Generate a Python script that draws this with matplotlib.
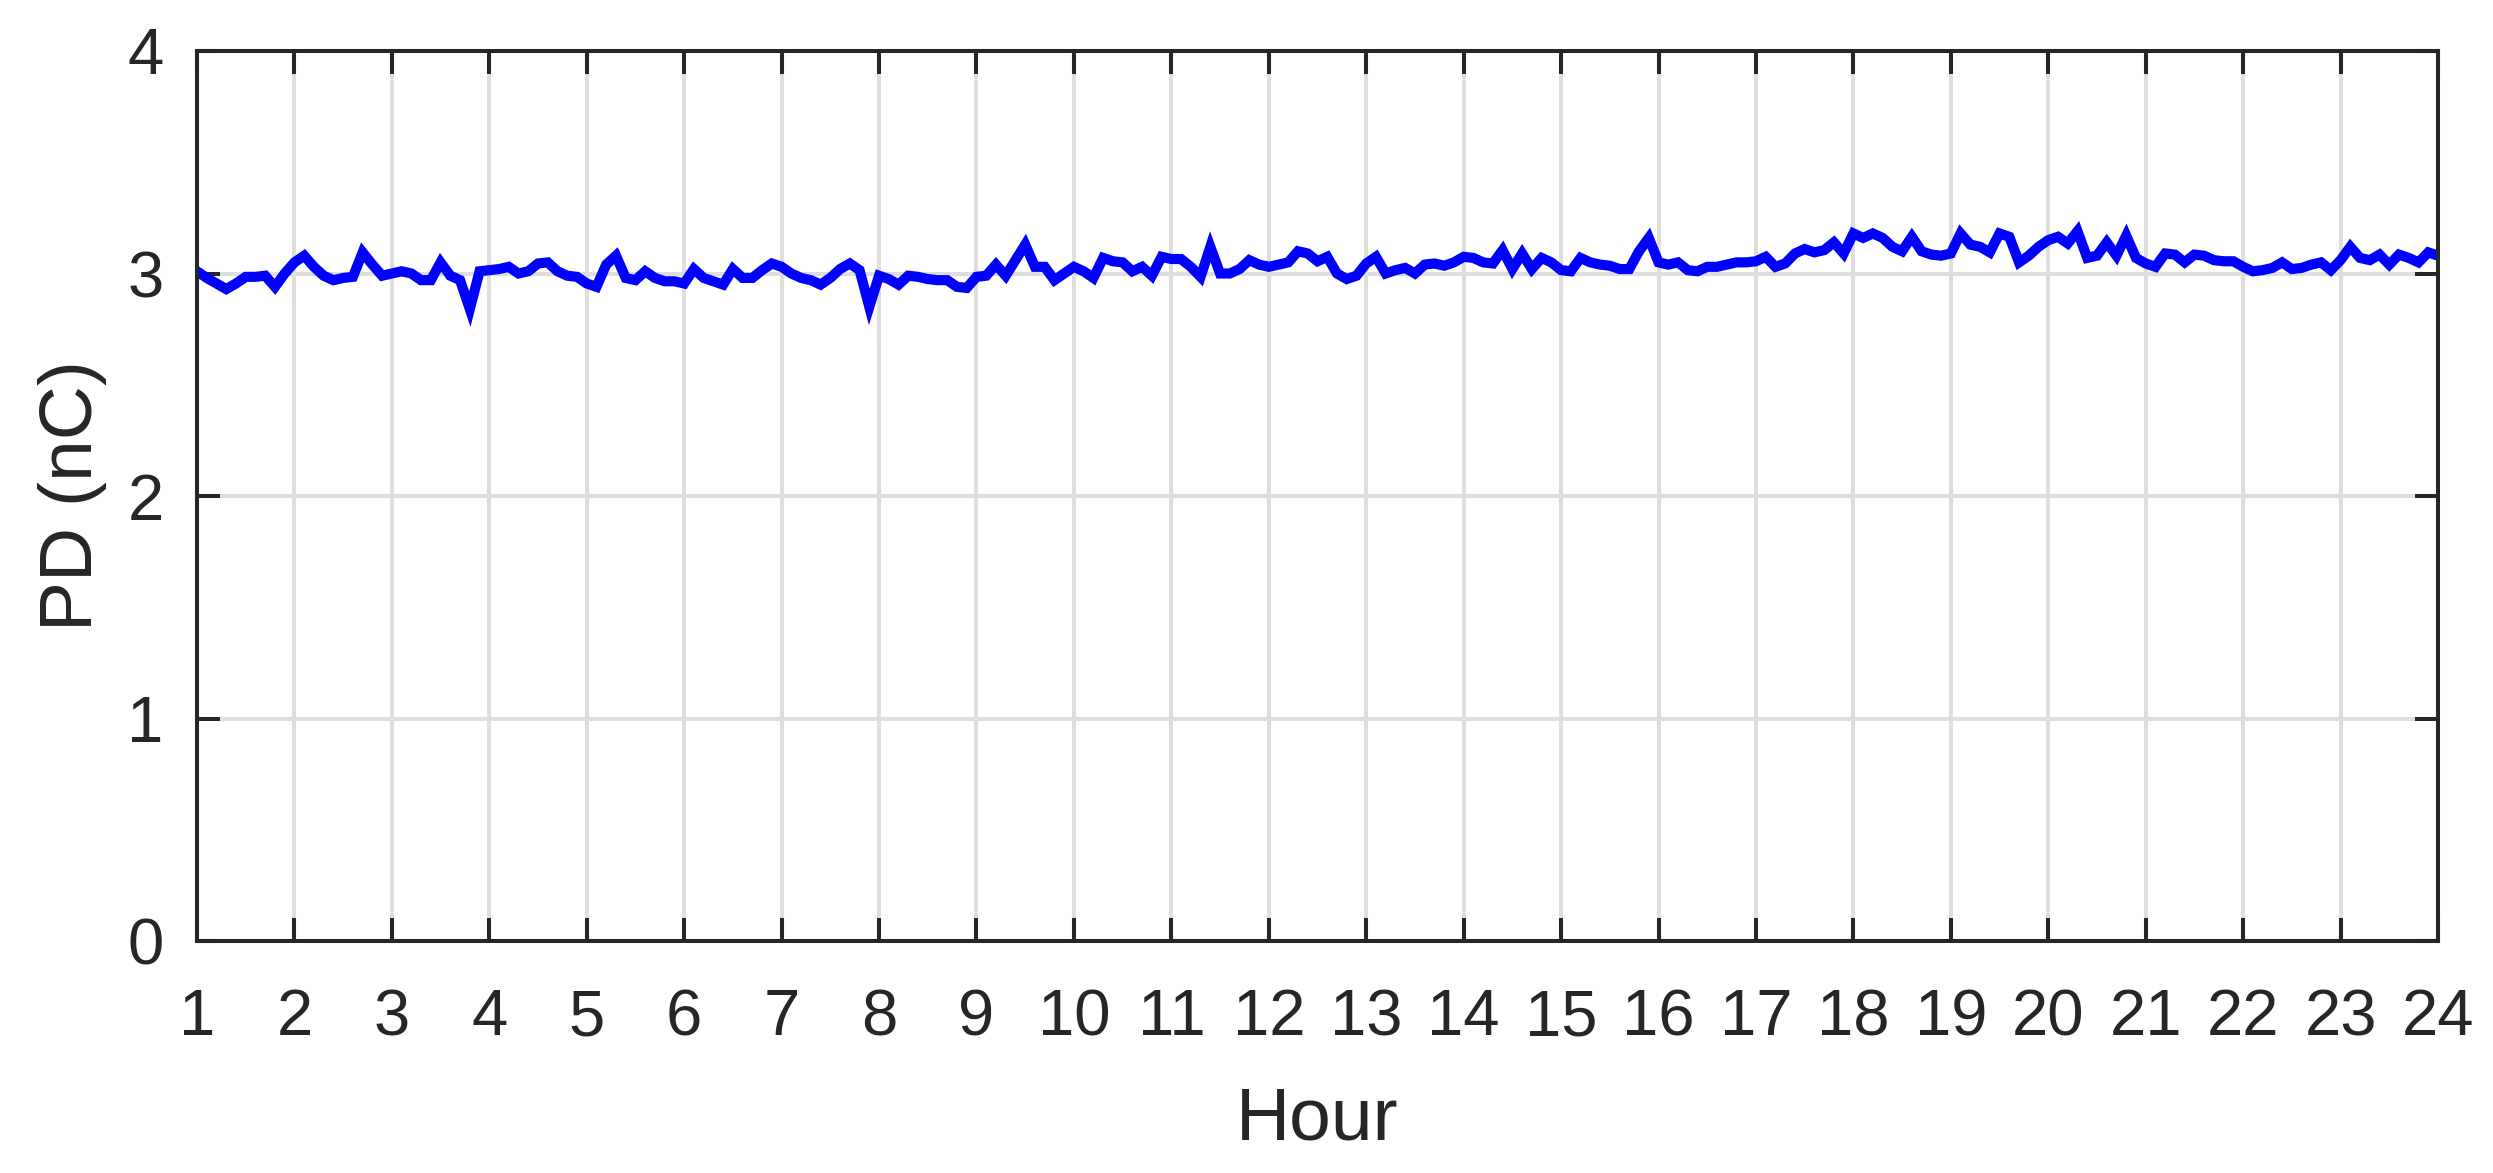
import numpy as np
import matplotlib
matplotlib.use("Agg")
import matplotlib.pyplot as plt

# ---- data (PD in nC, sampled every 0.1 h from hour 1 to hour 24) ----
hour_start = 1.0
hour_step = 0.1
pd_values = [
    3.01, 2.98, 2.955, 2.93, 2.955, 2.985, 2.985, 2.99, 2.94, 3.00,     # 1.0-1.9
    3.05, 3.08, 3.03, 2.99, 2.97, 2.98, 2.985, 3.095, 3.04, 2.99,       # 2.0-2.9
    3.00, 3.01, 3.00, 2.97, 2.97, 3.05, 2.99, 2.97, 2.84, 3.01,         # 3.0-3.9
    3.015, 3.02, 3.03, 3.00, 3.01, 3.045, 3.05, 3.01, 2.99, 2.985,      # 4.0-4.9
    2.955, 2.94, 3.04, 3.08, 2.98, 2.97, 3.01, 2.98, 2.965, 2.965,      # 5.0-5.9
    2.955, 3.02, 2.98, 2.965, 2.95, 3.02, 2.98, 2.98, 3.015, 3.045,     # 6.0-6.9
    3.03, 3.00, 2.98, 2.97, 2.95, 2.98, 3.02, 3.045, 3.015, 2.85,       # 7.0-7.9
    2.99, 2.975, 2.95, 2.99, 2.985, 2.975, 2.97, 2.97, 2.94, 2.935,     # 8.0-8.9
    2.985, 2.99, 3.04, 2.99, 3.06, 3.13, 3.03, 3.03, 2.97, 3.00,        # 9.0-9.9
    3.03, 3.01, 2.98, 3.07, 3.055, 3.05, 3.01, 3.03, 2.99, 3.075,       # 10.0-10.9
    3.065, 3.065, 3.03, 2.985, 3.12, 3.00, 3.00, 3.02, 3.06, 3.04,      # 11.0-11.9
    3.03, 3.04, 3.05, 3.10, 3.09, 3.055, 3.075, 3.00, 2.975, 2.99,      # 12.0-12.9
    3.045, 3.075, 3.00, 3.015, 3.025, 3.00, 3.04, 3.045, 3.035, 3.05,   # 13.0-13.9
    3.075, 3.07, 3.05, 3.045, 3.105, 3.02, 3.09, 3.02, 3.07, 3.05,      # 14.0-14.9
    3.015, 3.01, 3.07, 3.05, 3.04, 3.035, 3.02, 3.02, 3.10, 3.16,       # 15.0-15.9
    3.05, 3.04, 3.05, 3.015, 3.01, 3.03, 3.03, 3.04, 3.05, 3.05,        # 16.0-16.9
    3.055, 3.075, 3.03, 3.045, 3.09, 3.11, 3.095, 3.105, 3.14, 3.09,    # 17.0-17.9
    3.18, 3.16, 3.18, 3.16, 3.12, 3.10, 3.165, 3.10, 3.085, 3.08,       # 18.0-18.9
    3.09, 3.18, 3.13, 3.12, 3.095, 3.18, 3.165, 3.05, 3.08, 3.12,       # 19.0-19.9
    3.15, 3.165, 3.135, 3.19, 3.07, 3.08, 3.14, 3.08, 3.17, 3.07,       # 20.0-20.9
    3.045, 3.03, 3.09, 3.085, 3.05, 3.085, 3.08, 3.06, 3.055, 3.055,    # 21.0-21.9
    3.03, 3.01, 3.015, 3.025, 3.05, 3.02, 3.025, 3.04, 3.05, 3.015,     # 22.0-22.9
    3.06, 3.12, 3.07, 3.06, 3.085, 3.04, 3.085, 3.07, 3.05, 3.095,      # 23.0-23.9
    3.08,                                                               # 24.0
]
hours = hour_start + hour_step * np.arange(len(pd_values))

x_ticks = list(range(1, 25))
y_ticks = [0, 1, 2, 3, 4]
x_label = "Hour"
y_label = "PD (nC)"

# ---- figure ----
W, H, DPI = 2493, 1173, 100
plt.rcParams['font.family'] = ['Liberation Sans', 'DejaVu Sans']
fig = plt.figure(figsize=(W / DPI, H / DPI), dpi=DPI)
left, right, top, bottom = 197 / W, 2438 / W, 51 / H, 941 / H
ax = fig.add_axes([left, 1 - bottom, right - left, bottom - top])

text_color = '#262626'
ax.plot(hours, pd_values, color='#0000ff', linewidth=7.3, solid_joinstyle='miter', zorder=3)

ax.set_xlim(1, 24)
ax.set_ylim(0, 4)
ax.set_xticks(x_ticks)
ax.set_yticks(y_ticks)
ax.set_xticklabels([str(t) for t in x_ticks])
ax.set_yticklabels([str(t) for t in y_ticks])

ax.grid(True, color='#dedede', linewidth=2.9, zorder=0)
ax.set_axisbelow(True)

for s in ax.spines.values():
    s.set_linewidth(2.9)
    s.set_color(text_color)
    s.set_zorder(4)

ax.tick_params(axis='both', which='major', direction='in', length=16.5, width=2.9,
               color=text_color, labelcolor=text_color, labelsize=47,
               top=True, right=True)
ax.tick_params(axis='x', pad=34)
ax.tick_params(axis='y', pad=24)

ax.set_xlabel(x_label, fontsize=54, color=text_color, labelpad=27)
ax.set_ylabel(y_label, fontsize=54, color=text_color, labelpad=15)

fig.savefig('out.png', dpi=DPI, facecolor='white')
